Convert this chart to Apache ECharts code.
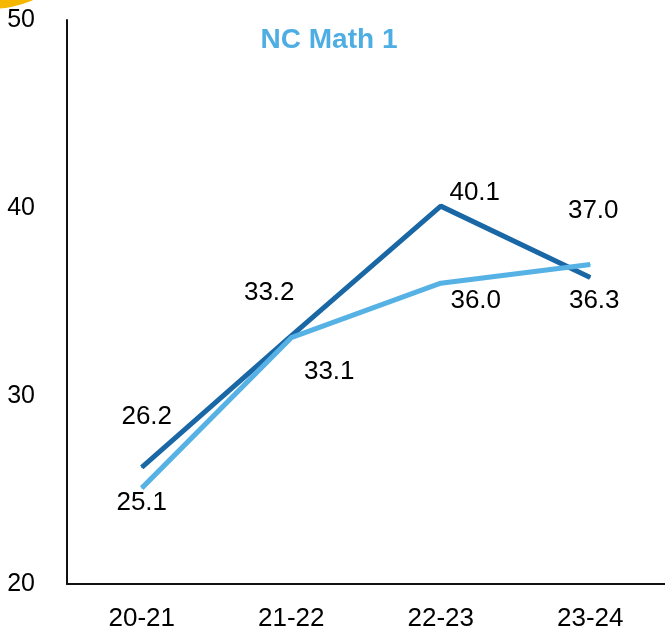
<!DOCTYPE html>
<html>
<head>
<meta charset="utf-8">
<script src="https://cdn.jsdelivr.net/npm/echarts@6/dist/echarts.min.js"></script>
<style>
html,body{margin:0;padding:0;background:#fff;}
#c{width:665px;height:638px;}
</style>
</head>
<body>
<div id="c"></div>
<script>
var categories = ['20-21', '21-22', '22-23', '23-24'];
var darkValues = [26.2, 33.2, 40.1, 36.3];
var lightValues = [25.1, 33.1, 36.0, 37.0];
var yTicks = [20, 30, 40, 50];
var titleText = 'NC Math 1';

// label offsets (style only)
var darkOffsets = [[5, -51], [-22, -43], [34, -13], [4, 23]];
var lightOffsets = [[0, 15], [38, 34], [35, 18], [3, -54]];

function buildData(vals, offs) {
  return vals.map(function (v, i) {
    return { value: v, label: { offset: offs[i] } };
  });
}

var FONT = '"Liberation Sans", Arial, sans-serif';
var chart = echarts.init(document.getElementById('c'), null, { renderer: 'canvas' });
chart.setOption({
  animation: false,
  backgroundColor: '#fff',
  title: {
    text: titleText,
    left: 324,
    textAlign: 'center',
    top: 21,
    textStyle: { color: '#4eaee3', fontSize: 28, fontWeight: 'bold', fontFamily: FONT }
  },
  graphic: [{
    type: 'circle',
    shape: { cx: -10, cy: -100, r: 109 },
    style: { fill: '#f5b700' },
    z: -1
  }],
  grid: { left: 67, right: -4, top: 20, bottom: 54 },
  xAxis: {
    type: 'category',
    data: categories,
    boundaryGap: true,
    axisLine: { lineStyle: { color: '#111', width: 2 } },
    axisTick: { show: false },
    axisLabel: { color: '#000', fontSize: 26, fontFamily: FONT, margin: 22 },
    splitLine: { show: false }
  },
  yAxis: {
    type: 'value',
    min: yTicks[0],
    max: yTicks[yTicks.length - 1],
    interval: 10,
    axisLine: { show: true, lineStyle: { color: '#111', width: 2 } },
    axisTick: { show: false },
    axisLabel: { color: '#000', fontSize: 25, fontFamily: FONT, margin: 32 },
    splitLine: { show: false }
  },
  series: [
    {
      type: 'line',
      data: buildData(darkValues, darkOffsets),
      symbol: 'circle',
      symbolSize: 1,
      itemStyle: { color: '#1a67a6' },
      lineStyle: { color: '#1a67a6', width: 5 },
      label: { show: true, position: 'inside', color: '#000', fontSize: 26, fontFamily: FONT,
        formatter: function (p) { return p.value.toFixed(1); } },
      z: 2
    },
    {
      type: 'line',
      data: buildData(lightValues, lightOffsets),
      symbol: 'circle',
      symbolSize: 1,
      itemStyle: { color: '#56b1e4' },
      lineStyle: { color: '#56b1e4', width: 5 },
      label: { show: true, position: 'inside', color: '#000', fontSize: 26, fontFamily: FONT,
        formatter: function (p) { return p.value.toFixed(1); } },
      z: 3
    }
  ]
});
</script>
</body>
</html>
